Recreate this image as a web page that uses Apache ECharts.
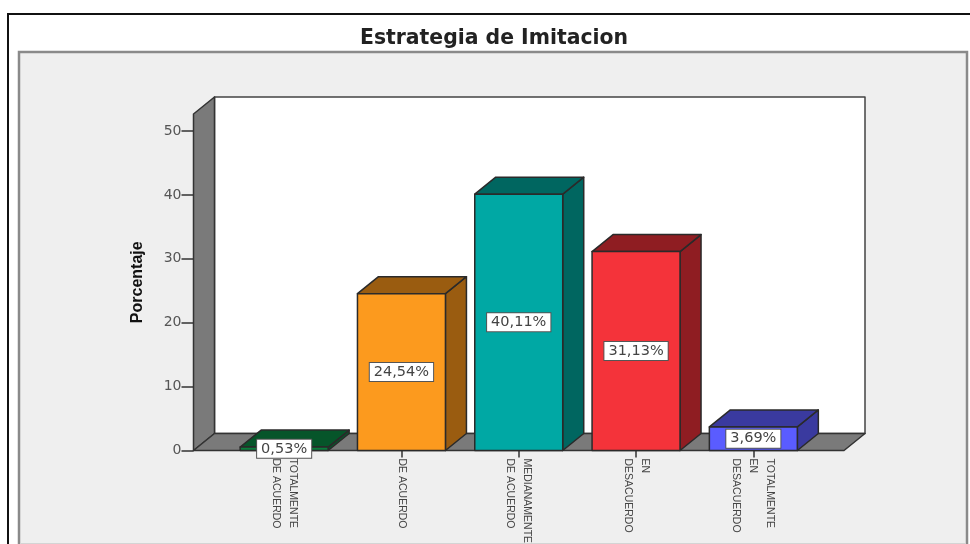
<!DOCTYPE html>
<html>
<head>
<meta charset="utf-8">
<style>
  html, body { margin: 0; padding: 0; background: #fff; overflow: hidden; }
  #chart { width: 970px; height: 544px; }
  #chart canvas { filter: blur(0.4px); }
</style>
<script src="https://cdn.jsdelivr.net/npm/echarts@6/dist/echarts.min.js"></script>
</head>
<body>
<div id="chart"></div>
<script>
const chartTitle = 'Estrategia de Imitacion'
const yName = 'Porcentaje'
const categories = [
  'TOTALMENTE\nDE ACUERDO',
  'DE ACUERDO',
  'MEDIANAMENTE\nDE ACUERDO',
  'EN\nDESACUERDO',
  'TOTALMENTE\nEN\nDESACUERDO'
]
const values = [0.53, 24.54, 40.11, 31.13, 3.69]
const yTicks = [0, 10, 20, 30, 40, 50]
const frontColors = ['#0b7d3c', '#fc9a1e', '#00a8a4', '#f4333a', '#5a5cff']
const darkColors = ['#06552a', '#9a5c10', '#006660', '#8f1d22', '#3a3a9f']

// depth of the fake 3D box, in pixels
const depthX = 21
const depthY = -17
const wallOut = 32
const edge = '#2a2a2a'

function poly(points, fill, stroke) {
  return {
    type: 'polygon',
    shape: { points: points },
    style: { fill: fill, stroke: stroke || edge, lineWidth: 1.5, lineJoin: 'round' }
  }
}

function renderWalls(params, api) {
  const cs = params.coordSys
  const left = cs.x - wallOut
  const right = cs.x + cs.width + wallOut
  const top = cs.y
  const floor = cs.y + cs.height
  return {
    type: 'group',
    children: [
      poly([[left + depthX, top + depthY], [right + depthX, top + depthY], [right + depthX, floor + depthY], [left + depthX, floor + depthY]], '#fff', '#444'),
      poly([[left, top], [left + depthX, top + depthY], [left + depthX, floor + depthY], [left, floor]], '#7a7a7a', '#333'),
      poly([[left, floor], [left + depthX, floor + depthY], [right + depthX, floor + depthY], [right, floor]], '#7a7a7a', '#333')
    ]
  }
}

function renderBar(params, api) {
  const i = api.value(0)
  const val = api.value(1)
  const base = api.coord([i, 0])
  const head = api.coord([i, val])
  const w = api.size([1, 0])[0] * 0.75
  const x0 = base[0] - w / 2
  const x1 = base[0] + w / 2
  const y0 = base[1]
  const y1 = head[1]
  return {
    type: 'group',
    children: [
      poly([[x1, y1], [x1 + depthX, y1 + depthY], [x1 + depthX, y0 + depthY], [x1, y0]], darkColors[i]),
      poly([[x0, y1], [x0 + depthX, y1 + depthY], [x1 + depthX, y1 + depthY], [x1, y1]], darkColors[i]),
      poly([[x0, y1], [x1, y1], [x1, y0], [x0, y0]], frontColors[i]),
      {
        type: 'text',
        z2: 10,
        style: {
          x: base[0],
          y: (y0 + y1) / 2,
          text: val.toFixed(2).replace('.', ',') + '%',
          align: 'center',
          verticalAlign: 'middle',
          font: '14.5px "DejaVu Sans"',
          fill: '#444',
          backgroundColor: '#fff',
          borderColor: '#555',
          borderWidth: 1,
          padding: [2, 4, 1, 4]
        }
      }
    ]
  }
}

const chart = echarts.init(document.getElementById('chart'))
chart.setOption({
  animation: false,
  backgroundColor: '#fff',
  title: {
    text: chartTitle,
    left: 489,
    top: 24,
    textAlign: 'center',
    textStyle: { fontFamily: 'DejaVu Sans', fontSize: 20.4, fontWeight: 'bold', color: '#222' }
  },
  graphic: [
    { type: 'rect', z: -10, shape: { x: 8, y: 14, width: 970, height: 540 }, style: { fill: '#fff', stroke: '#111', lineWidth: 2 } },
    { type: 'rect', z: -9, shape: { x: 19, y: 52, width: 948, height: 500 }, style: { fill: '#efefef', stroke: '#8a8a8a', lineWidth: 2.5 } },
    { type: 'rect', z: -8, shape: { x: 21, y: 543, width: 945, height: 1 }, style: { fill: '#d4d4d4' } }
  ],
  grid: { left: 225.5, width: 586.5, top: 114, height: 336.5, outerBoundsMode: 'none' },
  xAxis: {
    type: 'category',
    data: categories,
    axisLine: { show: false },
    axisTick: { show: true, alignWithLabel: true, length: 7, lineStyle: { color: '#333', width: 1.5 } },
    axisLabel: {
      interval: 0,
      rotate: -90,
      margin: 8,
      fontFamily: 'Liberation Sans',
      fontSize: 10.5,
      lineHeight: 17,
      color: '#444'
    }
  },
  yAxis: {
    type: 'value',
    min: 0,
    max: 52.66,
    name: yName,
    nameLocation: 'middle',
    nameGap: 48,
    nameRotate: 90,
    nameTextStyle: { fontFamily: 'Liberation Sans', fontSize: 16, fontWeight: 'bold', color: '#111' },
    offset: 32,
    axisLine: { show: false },
    splitLine: { show: false },
    axisTick: { show: true, length: 12, customValues: yTicks, lineStyle: { color: '#333', width: 1.5 } },
    axisLabel: { customValues: yTicks, margin: 12, padding: [6, 0, 0, 0], fontFamily: 'DejaVu Sans', fontSize: 14, color: '#555' }
  },
  series: [
    { type: 'custom', z: 1, silent: true, renderItem: renderWalls, data: [[0, 0]], encode: { x: 0, y: 1 } },
    {
      type: 'custom',
      z: 3,
      renderItem: renderBar,
      data: values.map((v, i) => [i, v]),
      encode: { x: 0, y: 1 }
    }
  ]
})
</script>
</body>
</html>
